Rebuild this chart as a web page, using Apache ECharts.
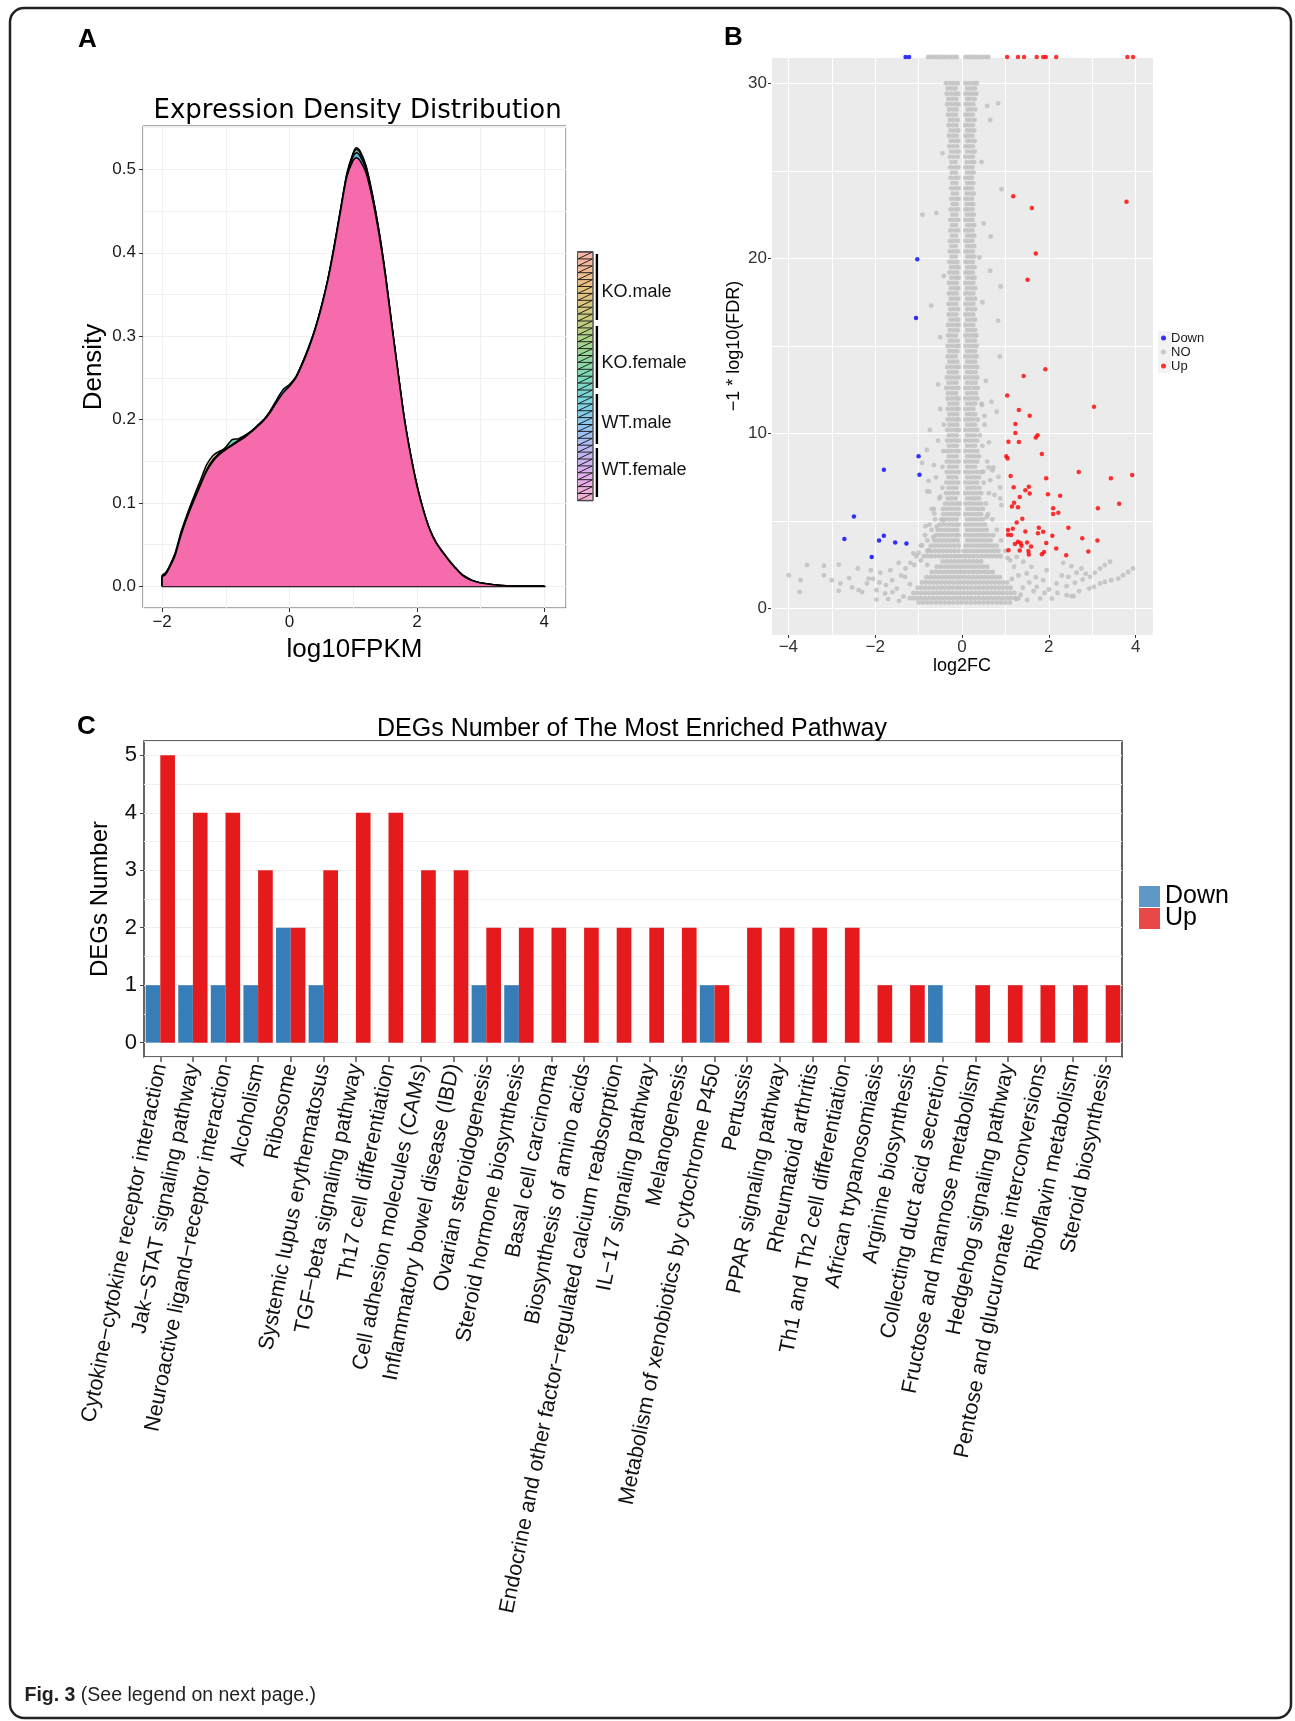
<!DOCTYPE html>
<html><head><meta charset="utf-8">
<script src="https://cdn.jsdelivr.net/npm/echarts@6/dist/echarts.min.js"></script>
<style>html,body{margin:0;padding:0;background:#fff}#c{width:1295px;height:1721px}</style>
</head><body><div id="c"></div>
<script>
// ---------------- Panel A: density ----------------
const sampleNames = ['KO.male','KO.female','WT.male','WT.female'];
const densX = [-2.0,-1.95,-1.9,-1.8,-1.7,-1.6,-1.5,-1.4,-1.3,-1.2,-1.1,-1.0,-0.9,-0.8,-0.7,-0.6,-0.5,-0.4,-0.3,-0.2,-0.1,0.0,0.1,0.2,0.3,0.4,0.5,0.6,0.7,0.8,0.9,1.0,1.05,1.1,1.2,1.3,1.4,1.5,1.6,1.7,1.8,1.9,2.0,2.1,2.2,2.3,2.4,2.5,2.6,2.7,2.8,2.9,3.0,3.2,3.4,3.6,3.8,4.0];
const densKOmale   = [0.013,0.016,0.022,0.039,0.066,0.088,0.108,0.127,0.146,0.157,0.162,0.165,0.17,0.175,0.18,0.186,0.193,0.2,0.21,0.222,0.233,0.241,0.251,0.268,0.287,0.309,0.336,0.368,0.408,0.452,0.495,0.52,0.526,0.523,0.505,0.471,0.429,0.378,0.318,0.259,0.203,0.159,0.122,0.092,0.069,0.053,0.042,0.032,0.023,0.015,0.01,0.006,0.004,0.002,0.0006,0.0002,0.0001,0];
const densKOfemale = [0.012,0.015,0.021,0.037,0.063,0.085,0.104,0.122,0.14,0.152,0.16,0.167,0.176,0.177,0.181,0.186,0.193,0.2,0.21,0.222,0.233,0.241,0.251,0.267,0.286,0.308,0.335,0.367,0.407,0.451,0.494,0.519,0.524,0.521,0.503,0.47,0.428,0.377,0.317,0.259,0.203,0.158,0.121,0.092,0.068,0.052,0.041,0.031,0.022,0.014,0.009,0.006,0.004,0.002,0.0006,0.0002,0.0001,0];
const densWTmale   = [0.011,0.014,0.02,0.036,0.062,0.084,0.104,0.122,0.139,0.151,0.159,0.165,0.17,0.175,0.18,0.186,0.193,0.2,0.211,0.224,0.236,0.242,0.251,0.267,0.286,0.308,0.335,0.367,0.406,0.45,0.492,0.516,0.52,0.517,0.5,0.468,0.426,0.376,0.316,0.258,0.202,0.158,0.121,0.092,0.068,0.052,0.041,0.031,0.022,0.014,0.009,0.006,0.004,0.002,0.0006,0.0002,0.0001,0];
const densWTfemale = [0.011,0.014,0.02,0.036,0.062,0.084,0.103,0.121,0.138,0.15,0.158,0.164,0.169,0.174,0.179,0.185,0.192,0.199,0.209,0.221,0.232,0.24,0.25,0.266,0.285,0.307,0.334,0.366,0.405,0.449,0.491,0.511,0.514,0.511,0.496,0.465,0.424,0.374,0.315,0.257,0.201,0.157,0.12,0.091,0.068,0.052,0.041,0.031,0.022,0.014,0.009,0.006,0.004,0.002,0.0006,0.0002,0.0001,0];
const densTicksX = [-2,0,2,4];
const densTicksY = [0,0.1,0.2,0.3,0.4,0.5];

// ---------------- Panel B: volcano ----------------
const volTicksX = [-4,-2,0,2,4];
const volTicksY = [0,10,20,30];
const downPoints = [[-1.3,31.5],[-1.22,31.5],[-1.03,19.95],[-1.06,16.6],[-1.0,8.7],[-0.98,7.65],[-1.8,7.93],[-2.49,5.26],[-2.71,3.98],[-1.91,3.9],[-1.8,4.16],[-1.54,3.78],[-1.28,3.72],[-2.08,2.96]];
const upPoints = [[1.04,31.5],[1.29,31.5],[1.43,31.5],[1.72,31.5],[1.87,31.5],[1.93,31.5],[2.17,31.5],[3.81,31.5],[3.94,31.5],[1.18,23.55],[1.61,22.88],[3.79,23.24],[1.7,20.28],[1.51,18.78],[1.92,13.67],[1.42,13.29],[1.04,12.17],[3.04,11.53],[1.31,11.35],[1.56,11.02],[1.23,10.54],[1.23,10.03],[1.74,9.9],[1.7,9.77],[1.07,9.54],[1.31,9.52],[1.84,8.83],[1.02,8.7],[1.05,8.57],[2.69,7.81],[1.12,7.58],[3.92,7.63],[1.94,7.45],[3.43,7.45],[1.19,6.94],[1.54,6.96],[1.46,6.76],[1.56,6.58],[1.98,6.53],[2.26,6.45],[1.33,6.38],[3.62,5.99],[1.2,6.05],[1.15,5.84],[1.29,5.79],[2.1,5.74],[3.13,5.74],[2.1,5.41],[2.22,5.48],[1.39,5.13],[1.26,4.92],[2.45,4.62],[1.06,4.49],[1.17,4.57],[1.77,4.62],[1.46,4.41],[1.87,4.39],[1.75,4.31],[1.06,4.23],[1.13,4.21],[2.08,4.16],[2.77,4.03],[3.12,3.9],[1.29,3.83],[1.35,3.75],[1.5,3.78],[1.94,3.75],[1.22,3.7],[1.37,3.6],[1.59,3.55],[2.17,3.44],[1.07,3.34],[1.33,3.32],[1.53,3.29],[1.89,3.24],[2.91,3.27],[1.84,3.11],[1.54,3.09],[2.4,3.06]];
// gray ("NO") genes: each row = [y, x1, x2, ...]
const grayRows = [
[31.5,-0.78,-0.72,-0.65,-0.58,-0.5,-0.43,-0.36,-0.28,-0.2,-0.12,0.08,0.15,0.23,0.31,0.39,0.47,0.55,0.61],
[30.0,-0.37,-0.28,-0.19,-0.1,0.08,0.17,0.26,0.34],
[29.7,-0.33,-0.24,-0.15,0.12,0.21,0.3],
[29.4,-0.35,-0.26,-0.17,-0.09,0.08,0.16,0.25,0.33],
[29.1,-0.31,-0.22,-0.13,0.12,0.2,0.29],
[28.8,-0.34,-0.25,-0.16,-0.08,0.09,0.17,0.26],
[28.5,-0.3,-0.21,-0.12,0.13,0.21,0.3],
[28.2,-0.32,-0.23,-0.14,0.08,0.16,0.25],
[27.9,-0.28,-0.19,-0.1,0.12,0.2,0.29],
[27.6,-0.31,-0.22,-0.13,0.08,0.16,0.25],
[27.3,-0.27,-0.18,-0.09,0.12,0.2,0.28],
[27.0,-0.3,-0.21,-0.12,0.08,0.16,0.24],
[26.7,-0.26,-0.17,-0.09,0.12,0.2,0.29],
[26.4,-0.29,-0.2,-0.11,0.08,0.16,0.25],
[26.1,-0.25,-0.16,-0.08,0.12,0.21,0.29],
[25.8,-0.28,-0.19,-0.1,0.08,0.17,0.25],
[25.5,-0.24,-0.15,0.11,0.2,0.28],
[25.2,-0.27,-0.18,-0.09,0.08,0.16,0.24],
[24.9,-0.23,-0.14,0.12,0.2,0.27],
[24.6,-0.26,-0.17,-0.09,0.08,0.16,0.23],
[24.3,-0.22,-0.13,0.12,0.19,0.26],
[24.0,-0.25,-0.16,-0.08,0.08,0.15,0.23],
[23.7,-0.21,-0.12,0.11,0.19,0.27],
[23.4,-0.25,-0.16,-0.08,0.08,0.15,0.23],
[23.1,-0.21,-0.12,0.11,0.19,0.26],
[22.8,-0.26,-0.17,-0.09,0.08,0.15,0.24],
[22.5,-0.22,-0.13,0.11,0.19,0.27],
[22.2,-0.27,-0.18,-0.09,0.08,0.16,0.24],
[21.9,-0.23,-0.14,0.12,0.2,0.28],
[21.6,-0.27,-0.18,-0.09,0.08,0.16,0.24],
[21.3,-0.23,-0.14,0.12,0.2,0.28],
[21.0,-0.28,-0.19,-0.1,0.08,0.16,0.24],
[20.7,-0.24,-0.15,0.12,0.2,0.28],
[20.4,-0.28,-0.19,-0.1,0.08,0.16,0.25],
[20.1,-0.24,-0.15,0.12,0.2,0.28],
[19.8,-0.29,-0.2,-0.11,0.08,0.16,0.25],
[19.5,-0.25,-0.16,-0.08,0.12,0.21,0.29],
[19.2,-0.29,-0.2,-0.11,0.08,0.16,0.25],
[18.9,-0.25,-0.16,-0.08,0.12,0.21,0.29],
[18.6,-0.3,-0.21,-0.12,0.08,0.17,0.26],
[18.3,-0.26,-0.17,-0.09,0.12,0.21,0.3],
[18.0,-0.3,-0.21,-0.12,0.08,0.17,0.26],
[17.7,-0.26,-0.17,-0.09,0.12,0.21,0.3],
[17.4,-0.31,-0.22,-0.13,0.08,0.17,0.26],
[17.1,-0.27,-0.18,-0.09,0.12,0.21,0.3],
[16.8,-0.31,-0.22,-0.13,0.08,0.17,0.26],
[16.5,-0.27,-0.18,-0.09,0.12,0.21,0.3],
[16.2,-0.32,-0.23,-0.14,-0.08,0.08,0.17,0.26],
[15.9,-0.28,-0.19,-0.1,0.12,0.21,0.3],
[15.6,-0.32,-0.23,-0.14,0.08,0.17,0.26,0.33],
[15.3,-0.28,-0.19,-0.1,0.12,0.21,0.3],
[15.0,-0.33,-0.24,-0.15,-0.08,0.08,0.17,0.26,0.34],
[14.7,-0.29,-0.2,-0.11,0.12,0.21,0.3],
[14.4,-0.33,-0.24,-0.15,0.08,0.17,0.26,0.34],
[14.1,-0.29,-0.2,-0.11,0.12,0.21,0.3],
[13.8,-0.34,-0.25,-0.16,-0.08,0.08,0.17,0.26,0.35],
[13.5,-0.3,-0.21,-0.12,0.12,0.21,0.31],
[13.2,-0.35,-0.26,-0.17,-0.08,0.08,0.17,0.26,0.35],
[12.9,-0.31,-0.22,-0.13,0.12,0.22,0.31],
[12.6,-0.36,-0.27,-0.18,-0.09,0.08,0.17,0.27,0.36],
[12.3,-0.32,-0.23,-0.14,0.12,0.22,0.32],
[12.0,-0.33,-0.24,-0.15,-0.08,0.08,0.17,0.26,0.35],
[11.7,-0.29,-0.2,-0.11,0.12,0.21,0.3,0.45],
[11.4,-0.5,-0.33,-0.24,-0.15,-0.08,0.08,0.17,0.26],
[11.1,-0.29,-0.2,-0.11,0.12,0.21,0.3],
[10.8,-0.33,-0.24,-0.15,-0.08,0.08,0.17,0.26,0.36],
[10.5,-0.42,-0.29,-0.2,-0.11,0.12,0.21,0.3,0.52],
[10.2,-0.34,-0.25,-0.16,-0.08,0.08,0.17,0.26,0.35],
[9.9,-0.3,-0.21,-0.12,0.12,0.21,0.3,0.41],
[9.6,-0.55,-0.34,-0.25,-0.16,-0.08,0.08,0.17,0.26,0.35],
[9.3,-0.3,-0.21,-0.12,0.12,0.21,0.3,0.47],
[9.0,-0.43,-0.34,-0.25,-0.16,-0.08,0.08,0.17,0.26,0.35],
[8.7,-0.3,-0.21,-0.12,0.12,0.21,0.3,0.39],
[8.4,-0.35,-0.26,-0.17,-0.08,0.08,0.17,0.26,0.35,0.58],
[8.1,-0.45,-0.3,-0.21,-0.12,0.12,0.21,0.3],
[7.8,-0.35,-0.26,-0.17,-0.08,0.08,0.17,0.26,0.35,0.44],
[7.5,-0.6,-0.31,-0.22,-0.13,0.12,0.21,0.3,0.39],
[7.2,-0.36,-0.27,-0.18,-0.09,0.08,0.17,0.26,0.35,0.5],
[6.9,-0.45,-0.31,-0.22,-0.13,0.12,0.21,0.3,0.4],
[6.6,-0.37,-0.28,-0.19,-0.1,0.08,0.17,0.26,0.35,0.44,0.62],
[6.3,-0.52,-0.33,-0.24,-0.15,0.12,0.21,0.3,0.39],
[6.0,-0.39,-0.3,-0.21,-0.12,-0.05,0.08,0.17,0.26,0.35,0.44,0.55],
[5.7,-0.65,-0.44,-0.35,-0.26,-0.17,-0.08,0.12,0.21,0.3,0.39,0.48],
[5.4,-0.43,-0.34,-0.25,-0.16,-0.08,0.08,0.17,0.26,0.35,0.44,0.6],
[5.1,-0.62,-0.48,-0.39,-0.3,-0.21,-0.12,0.12,0.21,0.3,0.39,0.48,0.7],
[4.8,-0.75,-0.52,-0.43,-0.34,-0.25,-0.16,-0.08,0.08,0.17,0.26,0.35,0.44,0.53],
[4.5,-0.7,-0.56,-0.47,-0.38,-0.29,-0.2,-0.11,0.12,0.21,0.3,0.39,0.48,0.57,0.8],
[4.2,-0.85,-0.6,-0.51,-0.42,-0.33,-0.24,-0.15,-0.08,0.08,0.17,0.26,0.35,0.44,0.53,0.62,0.72],
[3.9,-0.8,-0.64,-0.55,-0.46,-0.37,-0.28,-0.19,-0.1,0.12,0.21,0.3,0.39,0.48,0.57,0.66,0.9],
[3.6,-0.95,-0.72,-0.63,-0.54,-0.45,-0.36,-0.27,-0.18,-0.08,0.08,0.17,0.26,0.35,0.44,0.53,0.62,0.71,0.8],
[3.3,-0.8,-0.71,-0.62,-0.53,-0.44,-0.35,-0.26,-0.17,-0.08,0.04,0.12,0.21,0.3,0.39,0.48,0.57,0.66,0.75,0.84,1.0],
[3.0,-1.05,-0.88,-0.79,-0.7,-0.61,-0.52,-0.43,-0.34,-0.25,-0.16,-0.08,0.0,0.08,0.17,0.26,0.35,0.44,0.53,0.62,0.71,0.8,0.89],
[2.7,-0.45,-0.36,-0.27,-0.18,-0.09,0.0,0.08,0.17,0.26,0.35,0.44],
[2.4,-0.58,-0.49,-0.4,-0.31,-0.22,-0.13,-0.04,0.04,0.13,0.22,0.31,0.4,0.49,0.58],
[2.1,-0.7,-0.61,-0.52,-0.43,-0.34,-0.25,-0.16,-0.07,0.0,0.08,0.17,0.26,0.35,0.44,0.53,0.62,0.71],
[1.8,-0.82,-0.73,-0.64,-0.55,-0.46,-0.37,-0.28,-0.19,-0.1,-0.02,0.06,0.15,0.24,0.33,0.42,0.51,0.6,0.69,0.78,0.87],
[1.5,-0.92,-0.83,-0.74,-0.65,-0.56,-0.47,-0.38,-0.29,-0.2,-0.11,-0.03,0.05,0.14,0.23,0.32,0.41,0.5,0.59,0.68,0.77,0.86,0.95,1.04],
[1.2,-1.02,-0.93,-0.84,-0.75,-0.66,-0.57,-0.48,-0.39,-0.3,-0.21,-0.12,-0.04,0.04,0.13,0.22,0.31,0.4,0.49,0.58,0.67,0.76,0.85,0.94,1.03,1.12],
[0.9,-1.12,-1.03,-0.94,-0.85,-0.76,-0.67,-0.58,-0.49,-0.4,-0.31,-0.22,-0.13,-0.04,0.04,0.13,0.22,0.31,0.4,0.49,0.58,0.67,0.76,0.85,0.94,1.03,1.12,1.21],
[0.6,-1.2,-1.11,-1.02,-0.93,-0.84,-0.75,-0.66,-0.57,-0.48,-0.39,-0.3,-0.21,-0.12,-0.04,0.04,0.13,0.22,0.31,0.4,0.49,0.58,0.67,0.76,0.85,0.94,1.03,1.12,1.21,1.3],
[0.35,-1.0,-0.9,-0.8,-0.7,-0.6,-0.5,-0.4,-0.3,-0.2,-0.1,0.0,0.1,0.2,0.3,0.4,0.5,0.6,0.7,0.8,0.9,1.0,1.1]
];
const grayScattered = [[0.83,28.85],[0.65,27.9],[0.58,28.7],[0.91,23.95],[-0.91,22.5],[-0.59,22.6],[0.66,21.25],[0.4,20.05],[0.65,19.3],[0.89,18.4],[-0.71,17.3],[0.83,16.45],[0.87,14.4],[-0.74,10.2],[-0.81,9.06],[-0.8,6.7],[0.45,25.5],[-0.45,26.0],[0.5,22.0],[-0.42,19.0],[0.47,17.5],[-0.5,15.5],[0.55,13.0],[-0.55,12.8],[0.52,11.0],[0.62,9.5],[-0.65,8.2],[0.7,7.9],[0.75,6.5],[-0.7,5.7],
[-0.77,7.3],[-0.75,6.68],[-0.92,8.33],[-0.64,5.44],[-0.5,6.39],[-0.84,4.71],[-0.92,3.63],[-1.12,3.15],[0.88,6.92],[0.84,7.53],[0.72,8.07],[0.61,8.07],[0.65,7.34],[0.49,7.82],[0.8,11.25],[0.68,11.82],[0.46,11.63],[0.88,6.29],[0.91,5.91],[0.57,5.24],[-0.58,4.68],[-0.66,4.1],[-0.77,3.34],[-0.43,5.06],
[-3.99,1.91],[-3.72,1.63],[-3.74,0.96],[-3.57,2.49],[-3.18,2.45],[-3.18,1.91],[-3.0,1.63],[-2.84,2.52],[-2.84,1.02],[-2.8,1.44],[-2.53,1.21],[-2.4,2.3],[-2.38,1.06],[-2.19,1.44],[-2.15,1.72],[-1.97,1.06],[-1.97,0.52],[-1.88,2.05],[-1.77,0.87],[-1.65,2.2],[-1.61,1.63],[-1.46,2.62],[-1.5,1.15],[-1.31,1.82],[-1.19,2.62],[-1.35,0.7],[-1.45,0.45],[-1.6,0.95],[-1.75,1.35],[-2.05,1.7],[-2.3,0.95],[-2.6,1.75],[-1.3,2.3],[-1.2,1.4],[-1.7,0.55],[-1.9,1.5],[-2.1,2.2],[-1.4,1.9],[-1.1,2.5],[-0.95,2.75],[-0.8,2.5],[-1.0,3.2],
[3.94,2.3],[3.83,2.1],[3.71,1.91],[3.6,1.72],[3.44,1.63],[3.29,1.53],[3.18,1.44],[3.04,1.25],[2.93,1.15],[3.41,2.68],[3.29,2.49],[3.18,2.3],[3.06,2.05],[2.95,1.82],[2.78,1.67],[2.6,1.48],[2.41,1.29],[2.33,2.62],[2.52,2.43],[2.64,2.05],[2.45,1.82],[2.18,1.44],[2.07,0.58],[2.52,0.72],[2.41,0.77],[1.95,2.2],[1.87,1.63],[1.72,1.25],[1.8,0.58],[1.6,2.39],[1.49,2.01],[1.41,2.68],[1.26,2.96],[1.11,2.77],[1.05,2.9],[1.35,0.8],[1.5,0.5],[1.65,1.0],[1.55,1.5],[1.4,1.2],[1.3,1.9],[1.2,2.4],[1.7,1.8],[2.0,1.1],[2.2,0.9],[2.3,1.9],[1.9,0.9],[2.75,2.3],[2.85,2.0],[1.15,1.7],[1.25,0.55],[2.57,0.71],[2.7,1.0]];

// ---------------- Panel C: pathway bars ----------------
const pathways = ['Cytokine−cytokine receptor interaction','Jak−STAT signaling pathway','Neuroactive ligand−receptor interaction','Alcoholism','Ribosome','Systemic lupus erythematosus','TGF−beta signaling pathway','Th17 cell differentiation','Cell adhesion molecules (CAMs)','Inflammatory bowel disease (IBD)','Ovarian steroidogenesis','Steroid hormone biosynthesis','Basal cell carcinoma','Biosynthesis of amino acids','Endocrine and other factor−regulated calcium reabsorption','IL−17 signaling pathway','Melanogenesis','Metabolism of xenobiotics by cytochrome P450','Pertussis','PPAR signaling pathway','Rheumatoid arthritis','Th1 and Th2 cell differentiation','African trypanosomiasis','Arginine biosynthesis','Collecting duct acid secretion','Fructose and mannose metabolism','Hedgehog signaling pathway','Pentose and glucuronate interconversions','Riboflavin metabolism','Steroid biosynthesis'];
const downCounts = [1,1,1,1,2,1,0,0,0,0,1,1,0,0,0,0,0,1,0,0,0,0,0,0,1,0,0,0,0,0];
const upCounts   = [5,4,4,3,2,3,4,4,3,3,2,2,2,2,2,2,2,1,2,2,2,2,1,1,0,1,1,1,1,1];
const countTicks = [0,1,2,3,4,5];

// ---------------- build ----------------
const FONT = 'Liberation Sans, Arial, Helvetica, sans-serif';
const minus = v => String(v).replace('-', '\u2212');
function densPairs(ys){ return [[densX[0],0]].concat(densX.map((x,i)=>[x, ys[i]])); }
const grayPoints = grayRows.flatMap(r => r.slice(1).map(x => [x, r[0]])).concat(grayScattered);

const densColors = ['#E8B86A','#3FC4A6','#5AAEE6','#F56BAC'];
const densData = [densKOmale, densKOfemale, densWTmale, densWTfemale];

const faint = {show:true, lineStyle:{color:'#F0F0F0', width:1}};
const noAxis = {axisLine:{show:false,onZero:false}, axisTick:{show:false}, axisLabel:{show:false}};

const densSeries = sampleNames.map((n,i)=>({
  name:n, type:'line', xAxisIndex:0, yAxisIndex:0, data:densPairs(densData[i]),
  showSymbol:false, smooth:0.25, z: 2+i,
  lineStyle:{color:'#000', width:1.5},
  areaStyle:{color:densColors[i], opacity: i===3 ? 1 : 0.75},
  markLine: i===3 ? {silent:true, symbol:['none','none'], label:{show:false}, animation:false,
     lineStyle:{color:'#000', width:1.4, type:'solid'}, data:[[{coord:[-2,0]},{coord:[4.02,0]}]]} : undefined
}));

// legend A colour bar zigzag
const zig = [];
for (let y = 252; y < 500.5; y += 6.9) { zig.push([578, y], [592.5, y]); }

const option = {
  animation:false,
  textStyle:{fontFamily:FONT},
  grid:[
    {left:143, top:126, width:423, height:482, show:true, borderColor:'#555', borderWidth:1, backgroundColor:'transparent'},
    {left:771, top:57, width:382, height:578, show:true, backgroundColor:'#EBEBEB', borderWidth:0},
    {left:144, top:741, width:978, height:316, show:true, borderColor:'#333', borderWidth:1.5, backgroundColor:'transparent'}
  ],
  xAxis:[
    Object.assign({type:'value', gridIndex:0, min:-2.3, max:4.34, splitNumber:7, position:'bottom', splitLine:faint}, noAxis),
    {type:'value', gridIndex:0, min:-2.3, max:4.34, splitNumber:3, position:'bottom',
     axisLine:{show:false,onZero:false}, splitLine:{show:false},
     axisTick:{show:true, length:4, lineStyle:{color:'#333'}, customValues:densTicksX},
     axisLabel:{customValues:densTicksX, formatter:minus, fontSize:17, color:'#1a1a1a', margin:6, fontFamily:FONT},
     name:'log10FPKM', nameLocation:'middle', nameGap:29, nameTextStyle:{fontSize:26, color:'#000', fontFamily:FONT}},
    Object.assign({type:'value', gridIndex:1, min:-4.4, max:4.4, splitNumber:8, position:'bottom',
     splitLine:{show:true, lineStyle:{color:'#FFFFFF', width:1.1}}}, noAxis),
    {type:'value', gridIndex:1, min:-4.4, max:4.4, splitNumber:4, position:'bottom',
     axisLine:{show:false,onZero:false}, splitLine:{show:false},
     axisTick:{show:true, length:3, lineStyle:{color:'#333'}, customValues:volTicksX},
     axisLabel:{customValues:volTicksX, formatter:minus, fontSize:17, color:'#333', margin:4, fontFamily:FONT},
     name:'log2FC', nameLocation:'middle', nameGap:21, nameTextStyle:{fontSize:18, color:'#000', fontFamily:FONT}},
    {type:'category', gridIndex:2, data:pathways, position:'bottom',
     axisLine:{show:false,onZero:false}, splitLine:{show:false},
     axisTick:{show:true, alignWithLabel:true, length:5, lineStyle:{color:'#555', width:1.5}},
     axisLabel:{interval:0, rotate:78.7, fontSize:21.5, color:'#111', margin:7, fontFamily:FONT}}
  ],
  yAxis:[
    Object.assign({type:'value', gridIndex:0, min:-0.026, max:0.552, splitNumber:11, position:'left', splitLine:faint}, noAxis),
    {type:'value', gridIndex:0, min:-0.026, max:0.552, splitNumber:5, position:'left',
     axisLine:{show:false,onZero:false}, splitLine:{show:false},
     axisTick:{show:true, length:4, lineStyle:{color:'#333'}, customValues:densTicksY},
     axisLabel:{customValues:densTicksY, formatter:v=>Number(v).toFixed(1), fontSize:17, color:'#1a1a1a', margin:7, fontFamily:FONT},
     name:'Density', nameLocation:'middle', nameGap:36, nameTextStyle:{fontSize:26, color:'#000', fontFamily:FONT}},
    Object.assign({type:'value', gridIndex:1, min:-1.5, max:31.5, splitNumber:7, position:'left',
     splitLine:{show:true, lineStyle:{color:'#FFFFFF', width:1.1}}}, noAxis),
    {type:'value', gridIndex:1, min:-1.5, max:31.5, splitNumber:3, position:'left',
     axisLine:{show:false,onZero:false}, splitLine:{show:false},
     axisTick:{show:true, length:3, lineStyle:{color:'#333'}, customValues:volTicksY},
     axisLabel:{customValues:volTicksY, fontSize:17, color:'#333', margin:4, fontFamily:FONT},
     name:'\u22121 * log10(FDR)', nameLocation:'middle', nameGap:28, nameTextStyle:{fontSize:18, color:'#000', fontFamily:FONT}},
    Object.assign({type:'value', gridIndex:2, min:-0.25, max:5.25, splitNumber:11, position:'left', splitLine:faint}, noAxis),
    {type:'value', gridIndex:2, min:-0.25, max:5.25, splitNumber:5, position:'left',
     axisLine:{show:false,onZero:false}, splitLine:{show:false},
     axisTick:{show:true, length:4, lineStyle:{color:'#444'}, customValues:countTicks},
     axisLabel:{customValues:countTicks, fontSize:22, color:'#111', margin:7, fontFamily:FONT},
     name:'DEGs Number', nameLocation:'middle', nameGap:32, nameTextStyle:{fontSize:24, color:'#000', fontFamily:FONT}}
  ],
  legend:[
    {data:['Down','NO','Up'], orient:'vertical', left:1161, top:331, padding:0, icon:'circle', itemWidth:5, itemHeight:5, itemGap:0,
     selectedMode:false, textStyle:{fontSize:13, color:'#1a1a1a', lineHeight:14, fontFamily:FONT}},
    {data:[{name:'Down', itemStyle:{color:'#377EB8'}},{name:'Up', itemStyle:{color:'#E41A1C'}}], orient:'vertical', left:1139, top:884, padding:0,
     icon:'rect', itemWidth:21, itemHeight:21, itemGap:-3, selectedMode:false,
     textStyle:{fontSize:25, color:'#000', lineHeight:21, fontFamily:FONT}}
  ],
  series: densSeries.concat([
    {name:'NO', type:'scatter', xAxisIndex:2, yAxisIndex:2, data:grayPoints, symbolSize:4.9, clip:true,
     itemStyle:{color:'#BEBEBE'}, z:2},
    {name:'Down', type:'scatter', xAxisIndex:2, yAxisIndex:2, data:downPoints, symbolSize:4.5, clip:true,
     itemStyle:{color:'#0000FF'}, z:3},
    {name:'Up', type:'scatter', xAxisIndex:2, yAxisIndex:2, data:upPoints, symbolSize:4.5, clip:true,
     itemStyle:{color:'#FF0000'}, z:3},
    {name:'Down', type:'bar', xAxisIndex:4, yAxisIndex:4, data:downCounts, barGap:'0%', barCategoryGap:'10%',
     itemStyle:{color:'#377EB8'}},
    {name:'Up', type:'bar', xAxisIndex:4, yAxisIndex:4, data:upCounts, barGap:'0%', barCategoryGap:'10%',
     itemStyle:{color:'#E41A1C'}}
  ]),
  graphic:[
    {type:'rect', shape:{x:10, y:8, width:1281, height:1710, r:14}, style:{fill:'none', stroke:'#222', lineWidth:2.5}, silent:true},
    {type:'text', x:78, y:40, style:{text:'A', font:'bold 26px '+FONT, fill:'#000', align:'left', verticalAlign:'middle', textAlign:'left', textVerticalAlign:'middle'}},
    {type:'text', x:724, y:38, style:{text:'B', font:'bold 26px '+FONT, fill:'#000', align:'left', verticalAlign:'middle', textAlign:'left', textVerticalAlign:'middle'}},
    {type:'text', x:77, y:727, style:{text:'C', font:'bold 26px '+FONT, fill:'#000', align:'left', verticalAlign:'middle', textAlign:'left', textVerticalAlign:'middle'}},
    {type:'text', x:357.6, y:111, style:{text:'Expression Density Distribution', font:'26px DejaVu Sans, sans-serif', fill:'#000', align:'center', verticalAlign:'middle', textAlign:'center', textVerticalAlign:'middle'}},
    {type:'text', x:632, y:729, style:{text:'DEGs Number of The Most Enriched Pathway', font:'25px '+FONT, fill:'#000', align:'center', verticalAlign:'middle', textAlign:'center', textVerticalAlign:'middle'}},
    // legend A: colour bar
    {type:'rect', shape:{x:577.5, y:251.7, width:15.5, height:249}, style:{stroke:'#555', lineWidth:1,
      fill:new echarts.graphic.LinearGradient(0,0,0,1,[
        {offset:0, color:'#F6B4AA'},{offset:0.14, color:'#EBC181'},{offset:0.27, color:'#CACC7C'},{offset:0.38, color:'#A0D68E'},
        {offset:0.5, color:'#7CDBB8'},{offset:0.6, color:'#79D5E0'},{offset:0.7, color:'#8EC5F2'},{offset:0.8, color:'#BDB7F4'},
        {offset:0.9, color:'#E3AEF0'},{offset:1, color:'#F6B1CE'}])}},
    {type:'polyline', shape:{points:zig}, style:{stroke:'#111', fill:null, lineWidth:0.9}},
    {type:'rect', shape:{x:577.5, y:251.7, width:15.5, height:249}, style:{stroke:'#555', fill:null, lineWidth:1}},
    {type:'rect', shape:{x:595.7, y:254, width:2.4, height:66}, style:{fill:'#000'}},
    {type:'rect', shape:{x:595.7, y:326, width:2.4, height:62}, style:{fill:'#000'}},
    {type:'rect', shape:{x:595.7, y:394, width:2.4, height:50}, style:{fill:'#000'}},
    {type:'rect', shape:{x:595.7, y:448, width:2.4, height:49}, style:{fill:'#000'}},
    {type:'text', x:601.5, y:291.7, style:{text:sampleNames[0], font:'18px '+FONT, fill:'#111', align:'left', verticalAlign:'middle', textAlign:'left', textVerticalAlign:'middle'}},
    {type:'text', x:601.5, y:362.7, style:{text:sampleNames[1], font:'18px '+FONT, fill:'#111', align:'left', verticalAlign:'middle', textAlign:'left', textVerticalAlign:'middle'}},
    {type:'text', x:601.5, y:422.7, style:{text:sampleNames[2], font:'18px '+FONT, fill:'#111', align:'left', verticalAlign:'middle', textAlign:'left', textVerticalAlign:'middle'}},
    {type:'text', x:601.5, y:470, style:{text:sampleNames[3], font:'18px '+FONT, fill:'#111', align:'left', verticalAlign:'middle', textAlign:'left', textVerticalAlign:'middle'}},
    // legend B key background
    {type:'rect', z:-1, shape:{x:1158, y:331, width:13, height:42}, style:{fill:'#F2F2F2'}},
    // caption
    {type:'text', x:24.5, y:1696, style:{text:'{b|Fig. 3} (See legend on next page.)',
      font:'19.5px '+FONT, fill:'#231F20', align:'left', verticalAlign:'middle', textAlign:'left', textVerticalAlign:'middle',
      rich:{b:{fontWeight:'bold', fontSize:19.5, fontFamily:FONT, fill:'#231F20'}}}}
  ]
};
const chart = echarts.init(document.getElementById('c'), null, {renderer:'canvas'});
chart.setOption(option);
</script></body></html>
